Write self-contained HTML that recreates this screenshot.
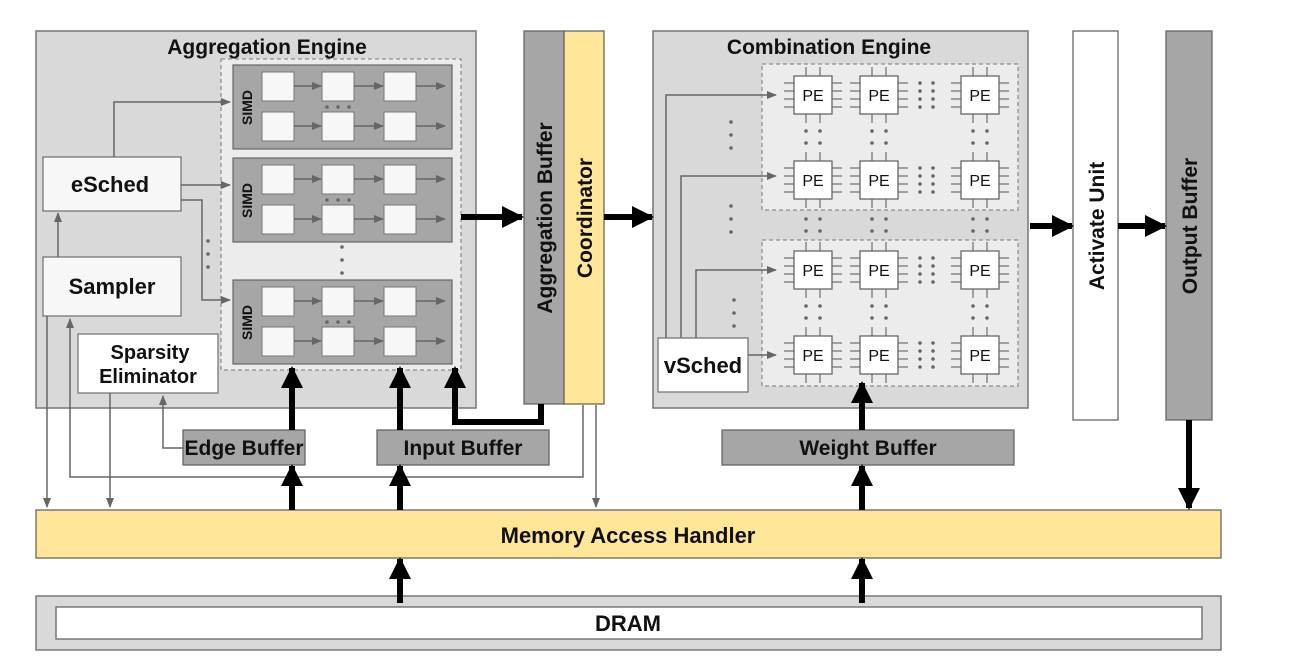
<!DOCTYPE html>
<html><head><meta charset="utf-8"><style>
html,body{margin:0;padding:0;background:#fff;}
svg{display:block;font-family:"Liberation Sans",sans-serif;}
.t{font-weight:bold;fill:#111;}
</style></head><body>
<svg width="1304" height="662" viewBox="0 0 1304 662" xmlns="http://www.w3.org/2000/svg">
<defs>
<marker id="ga" markerWidth="10" markerHeight="10" refX="9" refY="5" orient="auto" markerUnits="userSpaceOnUse"><path d="M0,1 L10,5 L0,9 z" fill="#666"/></marker>
<marker id="ba" markerWidth="22" markerHeight="22" refX="20" refY="11" orient="auto" markerUnits="userSpaceOnUse"><path d="M0,0 L22,11 L0,22 z" fill="#000"/></marker>
<g id="simd">
<rect x="0" y="0" width="219" height="84" fill="#a6a6a6" stroke="#666" stroke-width="1.2"/>
<g fill="#f7f7f7" stroke="#777" stroke-width="1">
<rect x="29" y="7" width="32" height="29"/><rect x="89" y="7" width="32" height="29"/><rect x="151" y="7" width="32" height="29"/>
<rect x="29" y="47" width="32" height="29"/><rect x="89" y="47" width="32" height="29"/><rect x="151" y="47" width="32" height="29"/>
</g>
<g stroke="#666" stroke-width="1.5" marker-end="url(#ga)">
<line x1="61" y1="21" x2="88" y2="21"/><line x1="121" y1="21" x2="150" y2="21"/><line x1="183" y1="21" x2="212" y2="21"/>
<line x1="61" y1="61" x2="88" y2="61"/><line x1="121" y1="61" x2="150" y2="61"/><line x1="183" y1="61" x2="212" y2="61"/>
</g>
<g fill="#666"><circle cx="94" cy="42" r="1.8"/><circle cx="105" cy="42" r="1.8"/><circle cx="116" cy="42" r="1.8"/></g>
<text class="t" x="0" y="0" font-size="14" transform="translate(19,60) rotate(-90)">SIMD</text>
</g>
<g id="pe">
<g stroke="#777" stroke-width="1.3">
<line x1="-29" y1="-12" x2="-19" y2="-12"/><line x1="-29" y1="-4" x2="-19" y2="-4"/><line x1="-29" y1="4" x2="-19" y2="4"/><line x1="-29" y1="12" x2="-19" y2="12"/>
<line x1="19" y1="-12" x2="29" y2="-12"/><line x1="19" y1="-4" x2="29" y2="-4"/><line x1="19" y1="4" x2="29" y2="4"/><line x1="19" y1="12" x2="29" y2="12"/>
<line x1="-7" y1="-28" x2="-7" y2="-19"/><line x1="7" y1="-28" x2="7" y2="-19"/>
<line x1="-7" y1="19" x2="-7" y2="28"/><line x1="7" y1="19" x2="7" y2="28"/>
</g>
<rect x="-19" y="-19" width="38" height="38" fill="#fff" stroke="#666" stroke-width="1.3"/>
</g>
<g id="hd" fill="#666"><circle cx="0" cy="-12" r="1.8"/><circle cx="0" cy="-4" r="1.8"/><circle cx="0" cy="4" r="1.8"/><circle cx="0" cy="12" r="1.8"/></g>
<g id="vd" fill="#666"><circle cx="-7" cy="-6" r="1.8"/><circle cx="7" cy="-6" r="1.8"/><circle cx="-7" cy="6" r="1.8"/><circle cx="7" cy="6" r="1.8"/></g>
</defs>

<!-- Aggregation engine -->
<rect x="36" y="31" width="440" height="377" fill="#d9d9d9" stroke="#777" stroke-width="1.5"/>
<text class="t" x="267" y="54" font-size="21" text-anchor="middle">Aggregation Engine</text>
<rect x="221" y="59" width="240" height="311" fill="#ececec" stroke="#777" stroke-width="1" stroke-dasharray="4,3"/>
<use href="#simd" x="233" y="65"/>
<use href="#simd" x="233" y="158"/>
<use href="#simd" x="233" y="280"/>

<!-- Combination engine -->
<rect x="653" y="31" width="375" height="377" fill="#d9d9d9" stroke="#777" stroke-width="1.5"/>
<text class="t" x="829" y="54" font-size="21" text-anchor="middle">Combination Engine</text>
<rect x="762" y="64" width="256" height="146" fill="#ececec" stroke="#777" stroke-width="1" stroke-dasharray="4,3"/>
<rect x="762" y="240" width="256" height="146" fill="#ececec" stroke="#777" stroke-width="1" stroke-dasharray="4,3"/>

<g fill="#666"><circle cx="342" cy="247" r="1.8"/><circle cx="342" cy="260" r="1.8"/><circle cx="342" cy="273" r="1.8"/>
<circle cx="208" cy="241" r="1.8"/><circle cx="208" cy="254" r="1.8"/><circle cx="208" cy="267" r="1.8"/>
<circle cx="731" cy="122" r="1.8"/><circle cx="731" cy="135" r="1.8"/><circle cx="731" cy="148" r="1.8"/>
<circle cx="731" cy="206" r="1.8"/><circle cx="731" cy="219" r="1.8"/><circle cx="731" cy="232" r="1.8"/>
<circle cx="734" cy="300" r="1.8"/><circle cx="734" cy="313" r="1.8"/><circle cx="734" cy="326" r="1.8"/></g>

<rect x="43" y="157" width="138" height="54" fill="#f7f7f7" stroke="#777" stroke-width="1.3"/>
<text class="t" x="110" y="192" font-size="22" text-anchor="middle">eSched</text>
<rect x="43" y="257" width="138" height="59" fill="#f7f7f7" stroke="#777" stroke-width="1.3"/>
<text class="t" x="112" y="294" font-size="22" text-anchor="middle">Sampler</text>
<rect x="78" y="334" width="140" height="59" fill="#fff" stroke="#777" stroke-width="1.3"/>
<text class="t" x="150" y="359" font-size="20" text-anchor="middle">Sparsity</text>
<text class="t" x="148" y="383" font-size="20" text-anchor="middle">Eliminator</text>

<g>
<use href="#pe" x="813" y="95"/><use href="#pe" x="879" y="95"/><use href="#pe" x="980" y="95"/>
<use href="#pe" x="813" y="180"/><use href="#pe" x="879" y="180"/><use href="#pe" x="980" y="180"/>
<use href="#pe" x="813" y="270"/><use href="#pe" x="879" y="270"/><use href="#pe" x="980" y="270"/>
<use href="#pe" x="813" y="355"/><use href="#pe" x="879" y="355"/><use href="#pe" x="980" y="355"/>
<use href="#hd" x="920" y="95"/><use href="#hd" x="933" y="95"/>
<use href="#hd" x="920" y="180"/><use href="#hd" x="933" y="180"/>
<use href="#hd" x="920" y="270"/><use href="#hd" x="933" y="270"/>
<use href="#hd" x="920" y="355"/><use href="#hd" x="933" y="355"/>
<use href="#vd" x="813" y="137"/><use href="#vd" x="879" y="137"/><use href="#vd" x="980" y="137"/>
<use href="#vd" x="813" y="225"/><use href="#vd" x="879" y="225"/><use href="#vd" x="980" y="225"/>
<use href="#vd" x="813" y="312"/><use href="#vd" x="879" y="312"/><use href="#vd" x="980" y="312"/>
</g>
<g font-size="16" fill="#111" text-anchor="middle">
<text x="813" y="101">PE</text><text x="879" y="101">PE</text><text x="980" y="101">PE</text>
<text x="813" y="186">PE</text><text x="879" y="186">PE</text><text x="980" y="186">PE</text>
<text x="813" y="276">PE</text><text x="879" y="276">PE</text><text x="980" y="276">PE</text>
<text x="813" y="361">PE</text><text x="879" y="361">PE</text><text x="980" y="361">PE</text>
</g>

<g stroke="#666" stroke-width="1.5" fill="none" marker-end="url(#ga)">
<polyline points="114,157 114,102 230,102"/>
<polyline points="181,185 230,185"/>
<polyline points="181,200 202,200 202,300 230,300"/>
<line x1="58" y1="257" x2="58" y2="213"/>
<line x1="47" y1="316" x2="47" y2="507"/>
<polyline points="583,405 583,477 70,477 70,319"/>
<line x1="110" y1="393" x2="110" y2="507"/>
<polyline points="183,448 163,448 163,396"/>
<line x1="596" y1="405" x2="596" y2="507"/>
<polyline points="666,338 666,95 776,95"/>
<polyline points="681,338 681,176 776,176"/>
<polyline points="696,338 696,270 776,270"/>
<line x1="748" y1="355" x2="776" y2="355"/>
</g>

<rect x="658" y="338" width="90" height="54" fill="#fff" stroke="#777" stroke-width="1.3"/>
<text class="t" x="703" y="373" font-size="22" text-anchor="middle">vSched</text>

<!-- Aggregation buffer + coordinator -->
<rect x="524" y="31" width="40" height="373" fill="#a6a6a6" stroke="#666" stroke-width="1.3"/>
<rect x="564" y="31" width="40" height="373" fill="#ffe699" stroke="#666" stroke-width="1.3"/>
<text class="t" x="0" y="0" font-size="21" text-anchor="middle" transform="translate(552,218) rotate(-90)">Aggregation Buffer</text>
<text class="t" x="0" y="0" font-size="21" text-anchor="middle" transform="translate(592,218) rotate(-90)">Coordinator</text>

<!-- Activate unit / output buffer -->
<rect x="1073" y="31" width="45" height="389" fill="#fff" stroke="#666" stroke-width="1.3"/>
<text class="t" x="0" y="0" font-size="21" text-anchor="middle" transform="translate(1104,226) rotate(-90)">Activate Unit</text>
<rect x="1166" y="31" width="46" height="389" fill="#a6a6a6" stroke="#666" stroke-width="1.3"/>
<text class="t" x="0" y="0" font-size="21" text-anchor="middle" transform="translate(1197,226) rotate(-90)">Output Buffer</text>

<!-- Buffers -->
<rect x="183" y="430" width="122" height="35" fill="#a6a6a6" stroke="#666" stroke-width="1.3"/>
<text class="t" x="244" y="455" font-size="21" text-anchor="middle">Edge Buffer</text>
<rect x="377" y="430" width="172" height="35" fill="#a6a6a6" stroke="#666" stroke-width="1.3"/>
<text class="t" x="463" y="455" font-size="21" text-anchor="middle">Input Buffer</text>
<rect x="722" y="430" width="292" height="35" fill="#a6a6a6" stroke="#666" stroke-width="1.3"/>
<text class="t" x="868" y="455" font-size="21" text-anchor="middle">Weight Buffer</text>

<!-- MAH & DRAM -->
<rect x="36" y="510" width="1185" height="48" fill="#ffe699" stroke="#666" stroke-width="1.3"/>
<text class="t" x="628" y="543" font-size="22" text-anchor="middle">Memory Access Handler</text>
<rect x="36" y="596" width="1185" height="54" fill="#d9d9d9" stroke="#666" stroke-width="1.3"/>
<rect x="56" y="607" width="1146" height="32" fill="#fff" stroke="#666" stroke-width="1.3"/>
<text class="t" x="628" y="631" font-size="22" text-anchor="middle">DRAM</text>

<!-- thick arrows -->
<g stroke="#000" stroke-width="6" fill="none" marker-end="url(#ba)">
<line x1="461" y1="217" x2="522" y2="217"/>
<line x1="604" y1="217" x2="652" y2="217"/>
<line x1="1030" y1="226" x2="1072" y2="226"/>
<line x1="1118" y1="226" x2="1165" y2="226"/>
<line x1="1189" y1="420" x2="1189" y2="508"/>
<line x1="292" y1="430" x2="292" y2="368"/>
<line x1="400" y1="430" x2="400" y2="368"/>
<polyline points="541,404 541,422 455,422 455,368"/>
<line x1="292" y1="510" x2="292" y2="466"/>
<line x1="400" y1="510" x2="400" y2="466"/>
<line x1="862" y1="510" x2="862" y2="466"/>
<line x1="862" y1="430" x2="862" y2="383"/>
<line x1="400" y1="603" x2="400" y2="559"/>
<line x1="862" y1="603" x2="862" y2="559"/>
</g>
</svg>
</body></html>
